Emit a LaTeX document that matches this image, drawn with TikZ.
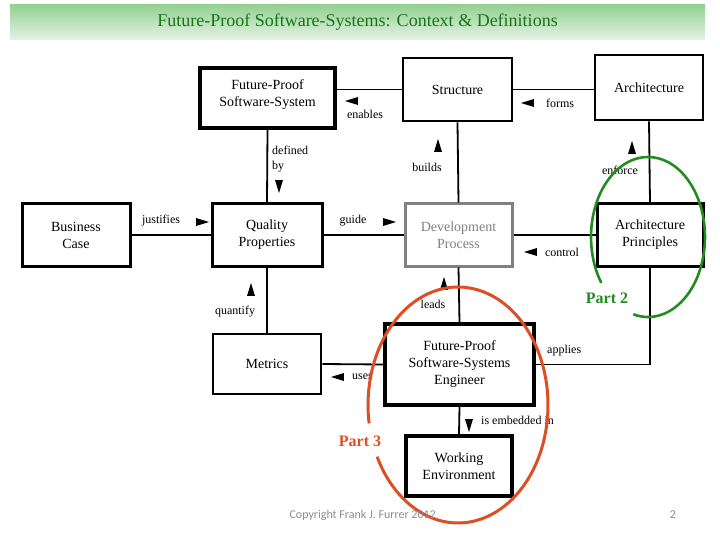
\documentclass[tikz,border=0pt]{standalone}
\usepackage{fontspec}
\setmainfont{Liberation Serif}
\newfontfamily\footfont{Carlito}
\usetikzlibrary{shapes.geometric}

\definecolor{bannertop}{RGB}{148,208,148}
\definecolor{bannerbot}{RGB}{230,243,230}
\definecolor{titlegreen}{RGB}{20,120,20}
\definecolor{parttwo}{RGB}{34,139,34}
\definecolor{partthree}{RGB}{222,78,36}
\definecolor{procgray}{RGB}{128,128,128}
\definecolor{footgray}{RGB}{140,140,140}

\begin{document}
\begin{tikzpicture}[x=1pt, y=-1pt,
        box/.style = {draw, line width=2.6pt, align=center, inner sep=2pt, font=\fontsize{14}{17}\selectfont},
        boldbox/.style = {box, line width=3.6pt},
        link/.style = {line width=1.8pt},
        lbl/.style = {inner sep=0pt, font=\fontsize{12}{15}\selectfont},
        tipmark/.style = {isosceles triangle, isosceles triangle stretches, fill, inner sep=0pt, minimum width=8pt, minimum height=13pt},
        banner/.style = {minimum width=695pt, minimum height=35pt, top color=bannertop, bottom color=bannerbot, text=titlegreen, font=\fontsize{18}{20}\selectfont}]

        \useasboundingbox (0,0) rectangle (720,540);

        \node[banner] (title) at (357.5,22.5) {Future-Proof Software-Systems: Context \& Definitions};

        % boxes
        \node[boldbox, minimum width=135pt, minimum height=60pt] (fpss) at (267.5,98) {Future-Proof\\Software-System\\[-8pt]\mbox{}};
        \node[box, minimum width=109pt, minimum height=63pt] (struct) at (457.5,89.5) {Structure};
        \node[box, minimum width=108pt, minimum height=65pt] (arch) at (649,87.5) {Architecture};
        \node[box, line width=3pt, minimum width=108pt, minimum height=62pt] (business) at (76,235) {Business\\Case};
        \node[box, line width=3pt, minimum width=110pt, minimum height=62pt] (quality) at (267,235) {Quality\\Properties};
        \node[box, line width=3pt, draw=procgray, text=procgray, minimum width=107pt, minimum height=62pt] (devproc) at (458.5,235) {Development\\Process};
        \node[box, line width=3pt, minimum width=106pt, minimum height=62pt] (principles) at (650,235) {Architecture\\Principles};
        \node[box, minimum width=108pt, minimum height=60pt] (metrics) at (267,364) {Metrics};
        \node[boldbox, minimum width=149pt, minimum height=81pt] (engineer) at (459.5,364.5) {Future-Proof\\Software-Systems\\Engineer};
        \node[box, line width=3.2pt, minimum width=106pt, minimum height=60pt] (workenv) at (459,466) {Working\\Environment};

        % connectors
        \draw[link] (struct.west -| fpss.east) -- (struct.west);
        \draw[link] (struct.east) -- (struct.east -| arch.west);
        \draw[link] (fpss.south) -- (quality.north);
        \draw[link] (struct.south) -- (devproc.north);
        \draw[link] (arch.south) -- (principles.north);
        \draw[link] (business.east) -- (quality.west);
        \draw[link] (quality.east) -- (devproc.west);
        \draw[link] (devproc.east) -- (principles.west);
        \draw[link] (quality.south) -- (metrics.north);
        \draw[link] (devproc.south) -- (engineer.north);
        \draw[link] (principles.south) |- (engineer.east);
        \draw[link] (metrics.east) -- (engineer.west);
        \draw[link] (engineer.south) -- (workenv.north);

        % labels
        \node[lbl] (enables) at (365,114) {enables};
        \node[tipmark, shape border rotate=180] (enablesTip) at (355,101) {};
        \node[lbl] (forms) at (560,103) {forms};
        \node[tipmark, shape border rotate=180] (formsTip) at (531,103) {};
        \node[lbl, anchor=west, align=left] (defined) at (272,159) {defined\\by};
        \node[tipmark, shape border rotate=270] (definedTip) at (279,183) {};
        \node[lbl] (builds) at (427,167) {builds};
        \node[tipmark, shape border rotate=90] (buildsTip) at (438,149) {};
        \node[lbl] (enforce) at (620,170) {enforce};
        \node[tipmark, shape border rotate=90] (enforceTip) at (632,151) {};
        \node[lbl] (justifies) at (161,221) {justifies};
        \node[tipmark] (justifiesTip) at (199,222) {};
        \node[lbl] (guide) at (353,221) {guide};
        \node[tipmark] (guideTip) at (386,222) {};
        \node[lbl] (control) at (562,252) {control};
        \node[tipmark, shape border rotate=180] (controlTip) at (534,252) {};
        \node[lbl] (leads) at (433,304) {leads};
        \node[tipmark, shape border rotate=90] (leadsTip) at (444,287) {};
        \node[lbl] (quantify) at (235,312) {quantify};
        \node[tipmark, shape border rotate=90] (quantifyTip) at (251,293) {};
        \node[lbl, anchor=west] (uses) at (352,377) {uses};
        \node[tipmark, shape border rotate=180] (usesTip) at (341,377) {};
        \node[lbl, anchor=west] (applies) at (547,351) {applies};
        \node[lbl, anchor=west] (embedded) at (481,420) {is embedded in};
        \node[tipmark, shape border rotate=270] (embeddedTip) at (469,422) {};

        % parts
        \node[text=parttwo, font=\fontsize{16}{18}\selectfont\bfseries] (part2) at (607,298) {Part 2};
        \node[text=partthree, font=\fontsize{16}{18}\selectfont\bfseries] (part3) at (360,441) {Part 3};
        \draw[parttwo, line width=2.6pt] plot[domain=145:465, samples=90] ({648+57*cos(\x)}, {237+80*sin(\x)});
        \draw[partthree, line width=3pt] plot[domain=171:514, samples=120] ({458+90*cos(\x)}, {405+118*sin(\x)});

        % footer
        \node[anchor=west, text=footgray, font=\footfont\fontsize{12}{14}\selectfont] (copyright) at (286,515) {Copyright Frank J. Furrer 2012};
        \node[text=footgray, font=\footfont\fontsize{12}{14}\selectfont] (pagenum) at (673,515) {2};

\end{tikzpicture}
\end{document}
